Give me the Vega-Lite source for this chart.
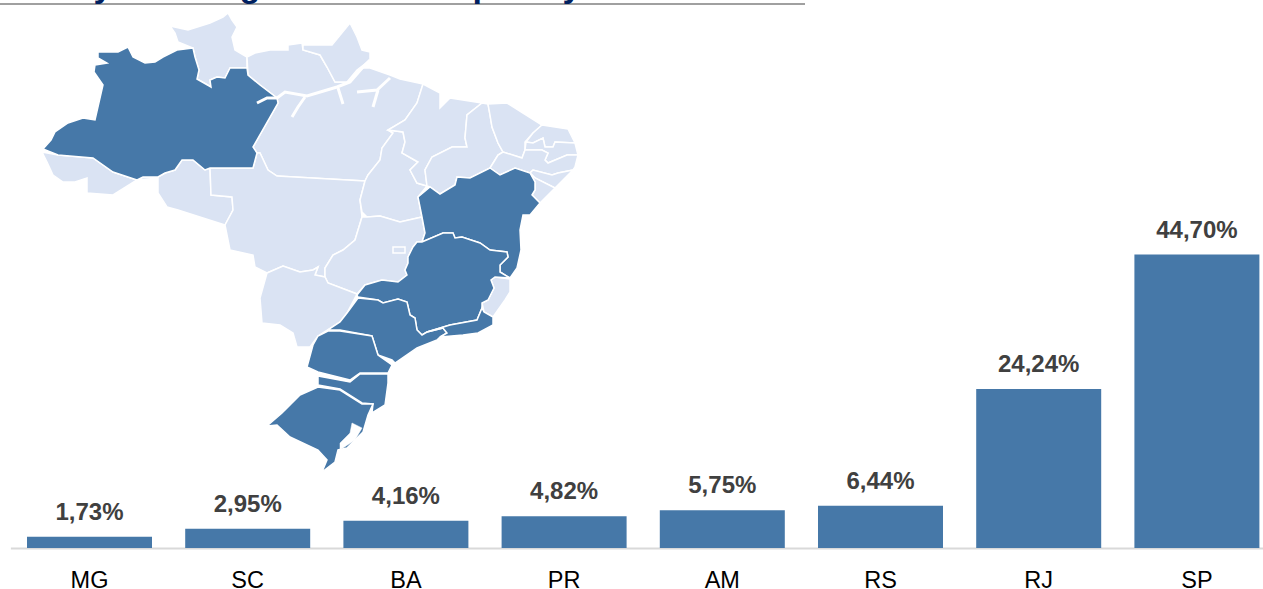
{
"$schema":"https://vega.github.io/schema/vega-lite/v6.json",
"width":1263,"height":548,"autosize":"none","padding":{"left":0,"right":0,"top":0,"bottom":41},
"background":"white",
"config":{"view":{"stroke":null}},
"datasets":{
"bars":[{"uf":"MG","share":1.73,"label":"1,73%"},{"uf":"SC","share":2.95,"label":"2,95%"},{"uf":"BA","share":4.16,"label":"4,16%"},{"uf":"PR","share":4.82,"label":"4,82%"},{"uf":"AM","share":5.75,"label":"5,75%"},{"uf":"RS","share":6.44,"label":"6,44%"},{"uf":"RJ","share":24.24,"label":"24,24%"},{"uf":"SP","share":44.70,"label":"44,70%"}],
"states":[
{"type":"Feature","properties":{"uf":"AC","g":"other"},"geometry":{"type":"Polygon","coordinates":[[[4.2,15.2],[5.8,15.5],[9.3,15.8],[11.3,17.2],[13.7,18],[11.3,19.5],[8.7,19.3],[8.7,17.8],[7.5,18.2],[6.3,18.2],[5.3,17.5],[4.7,16.2],[4.2,15.2]]]}},
{"type":"Feature","properties":{"uf":"RO","g":"other"},"geometry":{"type":"Polygon","coordinates":[[[13.7,18],[14.3,17.7],[15.8,17.7],[16.5,17.3],[17.5,17],[18.2,16],[19.3,16],[20.5,17],[21,16.8],[21.1,19.5],[23.2,19.7],[23.3,21],[22.5,22.5],[20.3,21.8],[17.8,21],[16.7,20.7],[15.8,19.3],[15.8,17.8],[13.7,18]]]}},
{"type":"Feature","properties":{"uf":"RR","g":"other"},"geometry":{"type":"Polygon","coordinates":[[[17,2.6],[18.8,3],[21,2.3],[22.3,1.7],[22.8,1.3],[23.2,2],[23.7,2.7],[23.2,3.7],[23.5,5],[24.7,5.7],[24.7,6.8],[23,6.8],[22.5,7.8],[21.7,7.7],[21,8],[21.1,8.7],[19.7,7.9],[19.9,7],[19.5,5.7],[19.3,4.8],[17.8,4.2],[17.5,3.3],[17,2.6]]]}},
{"type":"Feature","properties":{"uf":"PA","g":"other"},"geometry":{"type":"Polygon","coordinates":[[[25.3,14.7],[27.8,10.3],[27.7,9.8],[26,8.5],[24.8,7.5],[24.7,5.7],[25.5,5.3],[27,5],[28.8,5],[28.8,4.5],[30.2,4.3],[30.3,5],[32,5.5],[32.7,6.7],[33.5,8.2],[34.7,8.2],[36.3,6.8],[37,6.8],[39,7.5],[40,7.9],[42.3,8.4],[41.7,10.3],[40.5,12],[38.8,13],[39.3,13.3],[38.2,14.8],[38,16],[36.8,17.5],[36.5,18.1],[33,17.9],[27.7,17.6],[26.8,17],[26,15.3],[25.7,15.3],[25.3,14.7]]]}},
{"type":"Feature","properties":{"uf":"AP","g":"other"},"geometry":{"type":"Polygon","coordinates":[[[30.3,4.5],[31.3,4.5],[33.2,4.5],[35,2.3],[35.7,3.7],[36.2,5],[37,5.2],[37,6],[35.7,7],[34.7,8.2],[33.5,8.2],[32.7,6.7],[32,5.5],[30.3,5],[30.3,4.5]]]}},
{"type":"Feature","properties":{"uf":"MT","g":"other"},"geometry":{"type":"Polygon","coordinates":[[[25.7,15.3],[25.3,16.8],[21,16.8],[21.1,19.5],[23.2,19.7],[23.3,21],[22.5,22.5],[23,25],[25.3,25.5],[25.5,26.7],[26.7,27.3],[28.3,26.6],[30,27.2],[31.3,27],[31.8,26.7],[31.5,27.5],[32.5,27.7],[32.5,26.8],[33.3,25.5],[34.3,25],[35.5,24],[36.2,21.7],[36,20],[36.5,18.1],[33,17.9],[27.7,17.6],[26.8,17],[26,15.3],[25.7,15.3]]]}},
{"type":"Feature","properties":{"uf":"TO","g":"other"},"geometry":{"type":"Polygon","coordinates":[[[38.8,13],[40.3,13.2],[40.5,14.2],[40.2,15.3],[41.8,16.2],[41,17],[41.7,18.3],[42.7,18.6],[41.8,19.7],[42.2,21.7],[40,22.2],[38,21.6],[36.7,21.7],[36.2,21.2],[36,20],[36.5,18.1],[36.8,17.5],[38,16],[38.2,14.8],[39.3,13.3],[38.8,13]]]}},
{"type":"Feature","properties":{"uf":"MA","g":"other"},"geometry":{"type":"Polygon","coordinates":[[[42.3,8.4],[44,9.3],[44,10.8],[45,9.8],[48.2,10.3],[46.7,11.5],[46.5,13.8],[46.7,14.7],[45.2,14.7],[43.2,15.7],[42.5,17],[42.7,18.6],[41.7,18.3],[41,17],[41.8,16.2],[40.2,15.3],[40.5,14.2],[40.3,13.2],[38.8,13],[40.5,12],[41.7,10.3],[42.3,8.4]]]}},
{"type":"Feature","properties":{"uf":"PI","g":"other"},"geometry":{"type":"Polygon","coordinates":[[[48.2,10.3],[48.8,10.4],[49,11.5],[49.2,12.7],[49.8,14.3],[50.3,15.2],[49.8,15.5],[49.5,16],[49,16.8],[47,17.8],[45.7,17.7],[45.5,18.5],[44,19.4],[43,18.7],[42.7,18.6],[42.5,17],[43.2,15.7],[45.2,14.7],[46.7,14.7],[46.5,13.8],[46.7,11.5],[48.2,10.3]]]}},
{"type":"Feature","properties":{"uf":"CE","g":"other"},"geometry":{"type":"Polygon","coordinates":[[[48.8,10.4],[50.7,10.3],[52.3,11.3],[54.2,12.5],[53.3,13.3],[52.5,14.2],[52.5,15],[52.2,15.8],[50.3,15.2],[49.8,14.3],[49.2,12.7],[49,11.5],[48.8,10.4]]]}},
{"type":"Feature","properties":{"uf":"RN","g":"other"},"geometry":{"type":"Polygon","coordinates":[[[54.2,12.5],[56.8,12.9],[57.5,14.3],[55.5,14.2],[55.3,14.7],[54.5,14.7],[54.3,13.8],[53.3,14.3],[52.6,14.2],[53.3,13.3],[54.2,12.5]]]}},
{"type":"Feature","properties":{"uf":"PB","g":"other"},"geometry":{"type":"Polygon","coordinates":[[[57.5,14.3],[57.8,15.5],[56.7,15.5],[54.8,16.3],[54.5,16],[54.8,15.3],[54.2,15],[52.5,15],[52.6,14.2],[53.3,14.3],[54.3,13.8],[54.5,14.7],[55.3,14.7],[55.5,14.2],[57.5,14.3]]]}},
{"type":"Feature","properties":{"uf":"PE","g":"other"},"geometry":{"type":"Polygon","coordinates":[[[57.8,15.5],[57.5,16.7],[57.3,17],[55.8,17.3],[55.2,17.5],[53.3,17],[53,17.3],[51.5,16.8],[50,17.5],[49,16.8],[49.5,16],[49.8,15.5],[50.3,15.2],[52.2,15.8],[52.5,15],[54.2,15],[54.8,15.3],[54.5,16],[54.8,16.3],[56.7,15.5],[57.8,15.5]]]}},
{"type":"Feature","properties":{"uf":"AL","g":"other"},"geometry":{"type":"Polygon","coordinates":[[[57.3,17],[55.5,18.8],[53.5,17.8],[53,17.3],[53.3,17],[55.2,17.5],[55.8,17.3],[57.3,17]]]}},
{"type":"Feature","properties":{"uf":"SE","g":"other"},"geometry":{"type":"Polygon","coordinates":[[[55.5,18.8],[54,20.3],[53.2,19.5],[53.5,19],[53.5,18.2],[53,17.3],[53.5,17.8],[55.5,18.8]]]}},
{"type":"Feature","properties":{"uf":"GO","g":"other"},"geometry":{"type":"Polygon","coordinates":[[[36.7,21.7],[38,21.6],[40,22.2],[42.2,21.7],[42.5,23.3],[42.2,24.2],[41.7,24.2],[41.3,24.7],[40.8,25.7],[40.8,26.3],[40.5,27],[40.7,27.5],[39.8,28.2],[38.2,28],[36.5,28.5],[35.7,29.4],[32.8,28.3],[32.5,27.7],[32.5,26.8],[33.3,25.5],[34.3,25],[35.5,24],[36.2,21.7],[36.7,21.7]]]}},
{"type":"Feature","properties":{"uf":"DF","g":"other"},"geometry":{"type":"Polygon","coordinates":[[[39.3,24.7],[40.5,24.7],[40.5,25.3],[39.3,25.3],[39.3,24.7]]]}},
{"type":"Feature","properties":{"uf":"MS","g":"other"},"geometry":{"type":"Polygon","coordinates":[[[26.7,27.3],[28.3,26.6],[30,27.2],[31.3,27],[31.8,26.7],[31.5,27.5],[32.5,27.7],[32.8,28.3],[35.7,29.4],[34.7,31.3],[34,32.2],[31.8,33.6],[31,34.7],[29.7,34.7],[29.3,33.3],[28,32.5],[26.2,32.3],[26,29.8],[26.7,27.3]]]}},
{"type":"Feature","properties":{"uf":"ES","g":"other"},"geometry":{"type":"Polygon","coordinates":[[[51,27.9],[49.5,27.7],[49.1,28],[49.4,28.8],[48.8,30],[48.2,30.3],[48.4,31.2],[49.3,31.7],[50.5,30],[51,29.2],[51,27.9]]]}},
{"type":"Feature","properties":{"uf":"AM","g":"top"},"geometry":{"type":"Polygon","coordinates":[[[4.3,14.9],[5.1,14],[5.5,13.2],[6.8,12.3],[8.3,11.8],[9.5,12],[10.3,8.5],[9.4,7.2],[9.5,6.5],[10.7,6.3],[9.8,5.8],[9.8,5.2],[11.8,5.2],[12.8,4.7],[13.3,5.7],[14.5,6.3],[15.5,6.2],[16.3,5.7],[17.7,5],[19.3,4.8],[19.5,5.7],[19.9,7],[19.7,7.9],[21.1,8.7],[21,8],[21.7,7.7],[22.5,7.8],[23,6.8],[24.7,6.8],[24.8,7.5],[26,8.5],[27.7,9.8],[27.8,10.3],[25.3,14.7],[25.7,15.3],[25.3,16.8],[21,16.8],[20.5,17],[19.3,16],[18.2,16],[17.5,17],[16.5,17.3],[15.8,17.7],[14.3,17.7],[13.7,18],[11.3,17.2],[9.3,15.8],[5.8,15.5],[4.3,14.9]]]}},
{"type":"Feature","properties":{"uf":"BA","g":"top"},"geometry":{"type":"Polygon","coordinates":[[[41.8,19.7],[42.2,21.7],[42.5,23.3],[42.2,24.2],[44.3,23.3],[45.3,23.3],[45.5,23.8],[46.2,23.7],[48,24.3],[49,25],[50.7,25.2],[50.8,25.7],[50,26.5],[50,27.2],[51,27.8],[51.7,26.8],[52.1,25],[52,23],[52.3,21.5],[53,21.5],[54,20.3],[53.2,19.5],[53.5,19],[53.5,18.2],[53,17.3],[51.5,16.8],[50,17.5],[49,16.8],[47,17.8],[45.7,17.7],[45.5,18.5],[44,19.4],[43,18.7],[41.8,19.7]]]}},
{"type":"Feature","properties":{"uf":"MG","g":"top"},"geometry":{"type":"Polygon","coordinates":[[[35.7,29.5],[36.5,28.5],[38.2,28],[39.8,28.2],[40.7,27.5],[40.5,27],[40.8,26.3],[40.8,25.7],[41.3,24.7],[41.7,24.2],[42.2,24.2],[44.3,23.3],[45.3,23.3],[45.5,23.8],[46.2,23.7],[48,24.3],[49,25],[50.7,25.2],[50.8,25.7],[50,26.5],[50,27.2],[51,27.8],[49.5,27.7],[49.1,28],[49.4,28.8],[48.8,30],[48.2,30.3],[48.2,30.8],[47.7,32],[45,32.5],[42.7,33.2],[42.2,33.5],[41.7,33],[41.5,31.8],[41,31.5],[40.7,30.2],[39.8,29.9],[38.3,30.3],[37.8,30],[35.8,29.7],[35.7,29.5]]]}},
{"type":"Feature","properties":{"uf":"SP","g":"top"},"geometry":{"type":"Polygon","coordinates":[[[35.8,29.8],[34.7,31.3],[34,32.2],[32.8,33],[34,33],[37.2,33.6],[37.8,35.5],[39.2,36],[39.5,36.3],[41.7,34.8],[43.7,34],[44,33.7],[44.7,33.3],[44.3,32.8],[42.7,33.2],[42.2,33.5],[41.7,33],[41.5,31.8],[41,31.5],[40.7,30.2],[39.8,29.9],[38.3,30.3],[37.8,30],[35.8,29.8]]]}},
{"type":"Feature","properties":{"uf":"RJ","g":"top"},"geometry":{"type":"Polygon","coordinates":[[[48.2,30.8],[48.4,31.2],[49.3,31.7],[49.3,32.5],[47.8,33.3],[46.3,33.5],[44,33.7],[44.7,33.3],[44.3,32.8],[42.7,33.2],[45,32.5],[47.7,32],[48.2,30.8]]]}},
{"type":"Feature","properties":{"uf":"PR","g":"top"},"geometry":{"type":"Polygon","coordinates":[[[32.8,33.1],[31.8,33.6],[31.3,34.5],[30.7,36.7],[31.8,37.2],[35,38],[36,37.3],[38.8,37.3],[39.2,36.5],[37.8,35.5],[37.2,33.6],[34,33.1],[32.8,33.1]]]}},
{"type":"Feature","properties":{"uf":"SC","g":"top"},"geometry":{"type":"Polygon","coordinates":[[[31.8,37.6],[31.8,38.5],[34,38.9],[36.2,40.3],[37.3,40.4],[37.2,41.3],[38.5,40.5],[38.8,38.3],[38.8,37.4],[36,37.4],[35,38.2],[31.8,37.6]]]}},
{"type":"Feature","properties":{"uf":"RS","g":"top"},"geometry":{"type":"Polygon","coordinates":[[[31.8,38.7],[34,39],[36.2,40.4],[37.3,40.4],[36.8,41.5],[36.3,43.2],[34.7,44.8],[33.8,45],[33.5,46.2],[32.2,47.2],[32.7,46],[31.8,45],[29,43.7],[27.7,42.5],[26.7,42.6],[28.2,41.3],[30,39.5],[31.8,38.7]]]}}
],
"water":[
{"type":"Feature","properties":{"name":"Lagoa dos Patos"},"geometry":{"type":"Polygon","coordinates":[[[35.2,42.3],[36.2,42.8],[35.5,44],[34,45],[34,44.3],[35,43.3],[35.2,42.3]]]}}
],
"rivers":[
{"type":"Feature","properties":{"name":"Amazonas"},"geometry":{"type":"LineString","coordinates":[[25.7,10.3],[26.7,9.8],[27.7,9.8],[28.5,9.2],[30.7,9.6],[33.7,8.7],[35,8.2],[36.3,6.7],[37,6]]}},
{"type":"Feature","properties":{"name":"Madeira"},"geometry":{"type":"LineString","coordinates":[[30.5,9.7],[29.8,10.7],[29.2,11.7]]}},
{"type":"Feature","properties":{"name":"Tapajos"},"geometry":{"type":"LineString","coordinates":[[33.8,8.8],[34.3,10.4]]}},
{"type":"Feature","properties":{"name":"Xingu"},"geometry":{"type":"LineString","coordinates":[[35.7,9.2],[37.7,9],[39,7.8]]}},
{"type":"Feature","properties":{"name":"Xingu b"},"geometry":{"type":"LineString","coordinates":[[37.8,9],[37.3,10.7]]}}
]
},
"resolve":{"scale":{"x":"independent"},"axis":{"x":"independent"}},
"layer":[
{"data":{"name":"bars"},"mark":{"type":"bar","color":"#4678A8","size":125},
 "encoding":{"x":{"field":"uf","type":"nominal","sort":null,"scale":{"range":[10.4,1276]},
   "axis":{"title":null,"labelAngle":0,"labelFont":"Liberation Sans","labelFontSize":23.5,"labelColor":"#000000","labelPadding":20,"ticks":false,"domainColor":"#D9D9D9","domainWidth":2,"grid":false}},
  "y":{"field":"share","type":"quantitative","scale":{"domain":[0,83.48],"nice":false},"axis":null}}},
{"data":{"name":"bars"},"mark":{"type":"text","font":"Liberation Sans","fontWeight":"bold","fontSize":24,"color":"#404040","baseline":"bottom","dy":-12},
 "encoding":{"x":{"field":"uf","type":"nominal","sort":null,"scale":{"range":[10.4,1276]},"axis":null},
  "y":{"field":"share","type":"quantitative","scale":{"domain":[0,83.48],"nice":false},"axis":null},
  "text":{"field":"label"}}},
{"data":{"name":"states"},"mark":{"type":"geoshape","stroke":"#FFFFFF","strokeWidth":1.5},
 "projection":{"type":"identity","scale":10,"translate":[0,0]},
 "encoding":{"color":{"field":"properties.g","type":"nominal","scale":{"domain":["other","top"],"range":["#DAE3F3","#4678A8"]},"legend":null}}},
{"data":{"name":"water"},"mark":{"type":"geoshape","fill":"#FFFFFF","stroke":"#FFFFFF","strokeWidth":0.5},
 "projection":{"type":"identity","scale":10,"translate":[0,0]},"encoding":{}},
{"data":{"name":"rivers"},"mark":{"type":"geoshape","filled":false,"stroke":"#FFFFFF","strokeWidth":3,"fill":null},
 "projection":{"type":"identity","scale":10,"translate":[0,0]},"encoding":{}},
{"data":{"values":[{"from":0,"to":805,"level":82.87}]},"mark":{"type":"rule","color":"#A0A0A0","strokeWidth":2},
 "encoding":{"x":{"field":"from","type":"quantitative","scale":{"domain":[0,1263],"nice":false},"axis":null},"x2":{"field":"to"},"y":{"field":"level","type":"quantitative","scale":{"domain":[0,83.48],"nice":false},"axis":null}}},
{"data":{"values":[{"ch":"y","pos":103,"level":83.93},{"ch":"g","pos":250,"level":83.93},{"ch":"p","pos":483,"level":83.93},{"ch":"y","pos":572,"level":83.93}]},
 "mark":{"type":"text","font":"Liberation Sans","fontWeight":"bold","fontSize":34,"color":"#002060","baseline":"alphabetic"},
 "encoding":{"x":{"field":"pos","type":"quantitative","scale":{"domain":[0,1263],"nice":false},"axis":null},"y":{"field":"level","type":"quantitative","scale":{"domain":[0,83.48],"nice":false},"axis":null},"text":{"field":"ch"}}}
]
}
